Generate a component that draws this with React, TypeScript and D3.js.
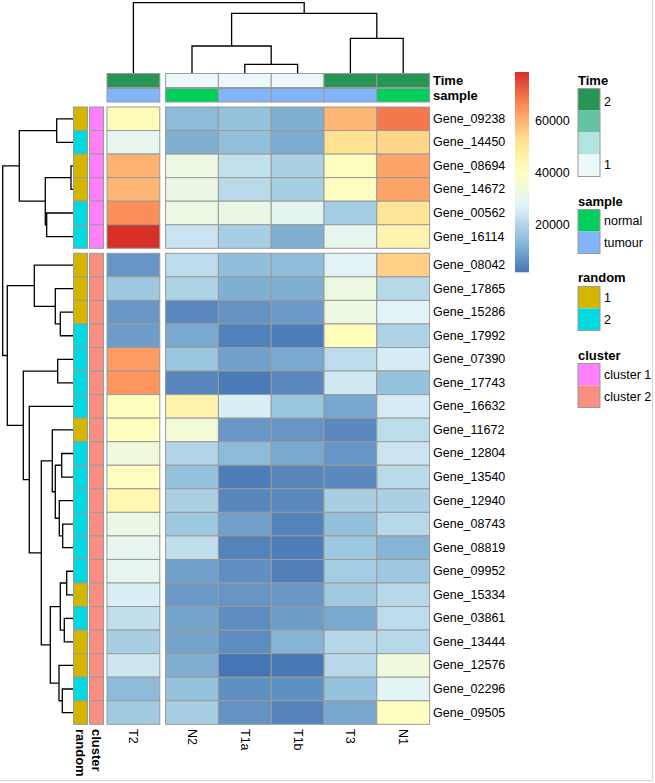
import React from "react";
import * as d3 from "d3";

// ---------- data ----------
const samples = ["T2", "N2", "T1a", "T1b", "T3", "N1"];
const genes = [
  "Gene_09238", "Gene_14450", "Gene_08694", "Gene_14672", "Gene_00562", "Gene_16114",
  "Gene_08042", "Gene_17865", "Gene_15286", "Gene_17992", "Gene_07390", "Gene_17743",
  "Gene_16632", "Gene_11672", "Gene_12804", "Gene_13540", "Gene_12940", "Gene_08743",
  "Gene_08819", "Gene_09952", "Gene_15334", "Gene_03861", "Gene_13444", "Gene_12576",
  "Gene_02296", "Gene_09505",
];
// rows follow genes, columns follow samples
const values: number[][] = [
  [42000, 14000, 15500, 12000, 60000, 69000],
  [30000, 12000, 15000, 11500, 53000, 55000],
  [60500, 32500, 23000, 19000, 40500, 62500],
  [60000, 32000, 21500, 18500, 40000, 62500],
  [66000, 32500, 32000, 29500, 18000, 51000],
  [79000, 24000, 18500, 12000, 30000, 45000],
  [7500, 22000, 14800, 14500, 28000, 56000],
  [17000, 19500, 12000, 12000, 33000, 21000],
  [8000, 5500, 7000, 8500, 33000, 28000],
  [9000, 11000, 4000, 3500, 41000, 19500],
  [64000, 16500, 9500, 11000, 22000, 26000],
  [65000, 5000, 3000, 5500, 25000, 15500],
  [40500, 46000, 26500, 16500, 10500, 26000],
  [40500, 35000, 8000, 7500, 5500, 22000],
  [34000, 20000, 14000, 11000, 7500, 24000],
  [40000, 15500, 3500, 5000, 5500, 21500],
  [44000, 19000, 5000, 5500, 18500, 19000],
  [32000, 17000, 9500, 4500, 15000, 21000],
  [30000, 22500, 4500, 3500, 17000, 13000],
  [30000, 9500, 6500, 3800, 18000, 17000],
  [26500, 8500, 7500, 8000, 17500, 21000],
  [22500, 10000, 6000, 9000, 11000, 22000],
  [18500, 10000, 6000, 13000, 20500, 21000],
  [24500, 12000, 2000, 2500, 21000, 34000],
  [14000, 15500, 6500, 6500, 15500, 28500],
  [17500, 18500, 7000, 4500, 10500, 40000],
];
const timeAnno = [2, 1, 1, 1, 2, 2];
const sampleAnno = ["tumour", "normal", "tumour", "tumour", "tumour", "normal"];
const randomAnno = [1, 2, 1, 1, 2, 2, 1, 1, 1, 2, 2, 2, 2, 1, 2, 2, 2, 2, 2, 2, 1, 2, 1, 1, 2, 1];
const clusterAnno = genes.map((_, i) => (i < 6 ? "cluster 1" : "cluster 2"));
const legendTicks = [20000, 40000, 60000];

type Node = string | [Node, Node, number];
const colTree: Node = ["T2", [["N2", ["T1a", "T1b", 8.7], 27], ["T3", "N1", 34.7], 59.7], 70.3];
const rowTree: Node = [
  [["Gene_09238", "Gene_14450", 16.3], [["Gene_08694", "Gene_14672", 2], ["Gene_00562", "Gene_16114", 26.3], 27.7], 53.7],
  [
    ["Gene_08042", ["Gene_17865", ["Gene_15286", "Gene_17992", 12.7], 17.7], 38.7],
    [
      ["Gene_07390", "Gene_17743", 15.3],
      [
        "Gene_16632",
        [
          ["Gene_11672", [["Gene_12804", "Gene_13540", 11.3], ["Gene_12940", ["Gene_08743", "Gene_08819", 10.3], 13.7], 17.7], 20.7],
          [[["Gene_09952", "Gene_15334", 6.3], ["Gene_03861", "Gene_13444", 8.7], 12.7], ["Gene_12576", ["Gene_02296", "Gene_09505", 10.7], 14], 22.7],
          31.7,
        ],
        43.7,
      ],
      49.7,
    ],
    65.7,
  ],
  70.3,
];

const timeColors = ["#EDF8FB", "#B2E2E2", "#66C2A4", "#279553"];
const sampleColors: Record<string, string> = { normal: "#00CF5B", tumour: "#82B4FA" };
const randomColors: Record<number, string> = { 1: "#D2B600", 2: "#00D9E0" };
const clusterColors: Record<string, string> = { "cluster 1": "#FF80F8", "cluster 2": "#FB8E82" };
const heatPalette = ["#4575b4", "#91bfdb", "#e0f3f8", "#ffffbf", "#fee090", "#fc8d59", "#d73027"];

// ---------- layout ----------
const FONT = "'Liberation Sans', Arial, sans-serif";
const cellW = 52.8;
const cellH = 23.55;
const x0 = 107;
const y0 = 107;
const colGap = 5.8;
const rowGap = 5;
const colX = (i: number) => x0 + i * cellW + (i >= 1 ? colGap : 0);
const rowY = (i: number) => y0 + i * cellH + (i >= 6 ? rowGap : 0);
const gridStroke = "#9a9a9a";

const allVals = values.flat();
const vMin = d3.min(allVals) as number;
const vMax = d3.max(allVals) as number;
const colorScale = d3
  .scaleLinear<string>()
  .domain(heatPalette.map((_, i) => vMin + ((vMax - vMin) * i) / (heatPalette.length - 1)))
  .range(heatPalette)
  .interpolate(d3.interpolateRgb);

const timeScale = d3.scaleLinear<string>().domain([1, 4 / 3, 5 / 3, 2]).range(timeColors);

function dendroPaths(
  tree: Node,
  leafPos: (name: string) => number,
  hScale: d3.ScaleLinear<number, number>,
  vertical: boolean
) {
  const paths: string[] = [];
  const walk = (n: Node): { p: number; h: number } => {
    if (typeof n === "string") return { p: leafPos(n), h: 0 };
    const a = walk(n[0]);
    const b = walk(n[1]);
    const h = n[2];
    if (vertical) {
      paths.push(`M${a.p},${hScale(a.h)}V${hScale(h)}H${b.p}V${hScale(b.h)}`);
    } else {
      paths.push(`M${hScale(a.h)},${a.p}H${hScale(h)}V${b.p}H${hScale(b.h)}`);
    }
    return { p: (a.p + b.p) / 2, h };
  };
  walk(tree);
  return paths;
}

export default function App() {
  const colCenter = (name: string) => colX(samples.indexOf(name)) + cellW / 2;
  const rowCenter = (name: string) => rowY(genes.indexOf(name)) + cellH / 2;

  const colH = d3.scaleLinear().domain([0, 70.3]).range([73, 2.7]);
  const rowH = d3.scaleLinear().domain([0, 70.3]).range([73, 2.7]);
  const colPaths = dendroPaths(colTree, colCenter, colH, true);
  const rowPaths = dendroPaths(rowTree, rowCenter, rowH, false);

  // legend colour bar
  const legY = d3.scaleLinear().domain([vMin, vMax]).range([272, 72]);
  const nSteps = 100;
  const steps = d3.range(nSteps).map((i) => vMin + ((vMax - vMin) * (i + 0.5)) / nSteps);
  const stepH = 200 / nSteps;

  const legX = 578;
  const boxW = 22;
  const boxH = 22;

  const annoLegend = (
    title: string,
    titleY: number,
    items: { label: string; color: string }[],
    boxTop: number,
    showLabels: boolean[]
  ) => (
    <g key={title}>
      <text x={legX} y={titleY} fontFamily={FONT} fontWeight="bold" fontSize={13} dominantBaseline="central">
        {title}
      </text>
      {items.map((it, i) => (
        <rect key={i} x={legX} y={boxTop + i * boxH} width={boxW} height={boxH} fill={it.color} />
      ))}
      <rect x={legX} y={boxTop} width={boxW} height={boxH * items.length} fill="none" stroke={gridStroke} strokeWidth={1} />
      {items.map((it, i) =>
        showLabels[i] ? (
          <text key={"t" + i} x={legX + boxW + 4} y={boxTop + i * boxH + boxH / 2 + (title === "Time" ? (i === 0 ? 2 : -1) : 0)} fontFamily={FONT} fontSize={12.5} dominantBaseline="central">
            {it.label}
          </text>
        ) : null
      )}
    </g>
  );

  return (
    <svg width={655} height={783} style={{ position: "absolute", left: 0, top: 0, background: "#fff" }}>
      <rect x={0} y={0} width={655} height={783} fill="#fff" />
      {/* dendrograms */}
      <g fill="none" stroke="#000" strokeWidth={1.3}>
        {colPaths.map((d, i) => (
          <path key={"c" + i} d={d} />
        ))}
        {rowPaths.map((d, i) => (
          <path key={"r" + i} d={d} />
        ))}
      </g>

      {/* column annotations */}
      {samples.map((s, i) => (
        <g key={s}>
          <rect x={colX(i)} y={73.5} width={cellW} height={14} fill={timeScale(timeAnno[i])} stroke={gridStroke} strokeWidth={1} />
          <rect x={colX(i)} y={88.5} width={cellW} height={13.5} fill={sampleColors[sampleAnno[i]]} stroke={gridStroke} strokeWidth={1} />
        </g>
      ))}
      <text x={433} y={80.5} fontFamily={FONT} fontWeight="bold" fontSize={13} dominantBaseline="central">Time</text>
      <text x={433} y={95.5} fontFamily={FONT} fontWeight="bold" fontSize={13} dominantBaseline="central">sample</text>

      {/* row annotations */}
      {genes.map((g, i) => (
        <g key={g}>
          <rect x={73.5} y={rowY(i)} width={14} height={cellH} fill={randomColors[randomAnno[i]]} stroke={gridStroke} strokeWidth={1} />
          <rect x={89.5} y={rowY(i)} width={14} height={cellH} fill={clusterColors[clusterAnno[i]]} stroke={gridStroke} strokeWidth={1} />
        </g>
      ))}
      <text transform={`translate(80.5,729) rotate(90)`} fontFamily={FONT} fontWeight="bold" fontSize={13} dominantBaseline="central">random</text>
      <text transform={`translate(96.5,729) rotate(90)`} fontFamily={FONT} fontWeight="bold" fontSize={13} dominantBaseline="central">cluster</text>

      {/* heatmap cells */}
      {values.map((row, ri) =>
        row.map((v, ci) => (
          <rect key={ri + "-" + ci} x={colX(ci)} y={rowY(ri)} width={cellW} height={cellH} fill={colorScale(v)} stroke={gridStroke} strokeWidth={1} />
        ))
      )}

      {/* row labels */}
      {genes.map((g, i) => (
        <text key={"l" + g} x={433} y={rowY(i) + cellH / 2} fontFamily={FONT} fontSize={12.5} dominantBaseline="central">
          {g}
        </text>
      ))}
      {/* column labels */}
      {samples.map((s, i) => (
        <text key={"cl" + s} transform={`translate(${colX(i) + cellW / 2},729) rotate(90)`} fontFamily={FONT} fontSize={12.5} dominantBaseline="central">
          {s}
        </text>
      ))}

      {/* colour legend */}
      {steps.map((v, i) => (
        <rect key={"lg" + i} x={515} y={272 - (i + 1) * stepH} width={14} height={stepH + 0.3} fill={colorScale(v)} />
      ))}
      {legendTicks.map((t) => (
        <text key={"tk" + t} x={535} y={legY(t)} fontFamily={FONT} fontSize={12.5} dominantBaseline="central">
          {t}
        </text>
      ))}

      {/* annotation legends */}
      {annoLegend(
        "Time",
        80,
        [2, 5 / 3, 4 / 3, 1].map((v) => ({ label: String(v), color: timeScale(v) })),
        88.5,
        [true, false, false, true]
      )}
      {annoLegend(
        "sample",
        201,
        ["normal", "tumour"].map((k) => ({ label: k, color: sampleColors[k] })),
        209.5,
        [true, true]
      )}
      {annoLegend(
        "random",
        277,
        [1, 2].map((k) => ({ label: String(k), color: randomColors[k] })),
        286.5,
        [true, true]
      )}
      {annoLegend(
        "cluster",
        355,
        ["cluster 1", "cluster 2"].map((k) => ({ label: k, color: clusterColors[k] })),
        363.5,
        [true, true]
      )}

      {/* frame edges from the screenshot */}
      <line x1={652.5} y1={0} x2={652.5} y2={780.5} stroke="#d4d4d4" strokeWidth={1} />
      <line x1={0} y1={780.5} x2={652.5} y2={780.5} stroke="#d4d4d4" strokeWidth={1} />
    </svg>
  );
}
